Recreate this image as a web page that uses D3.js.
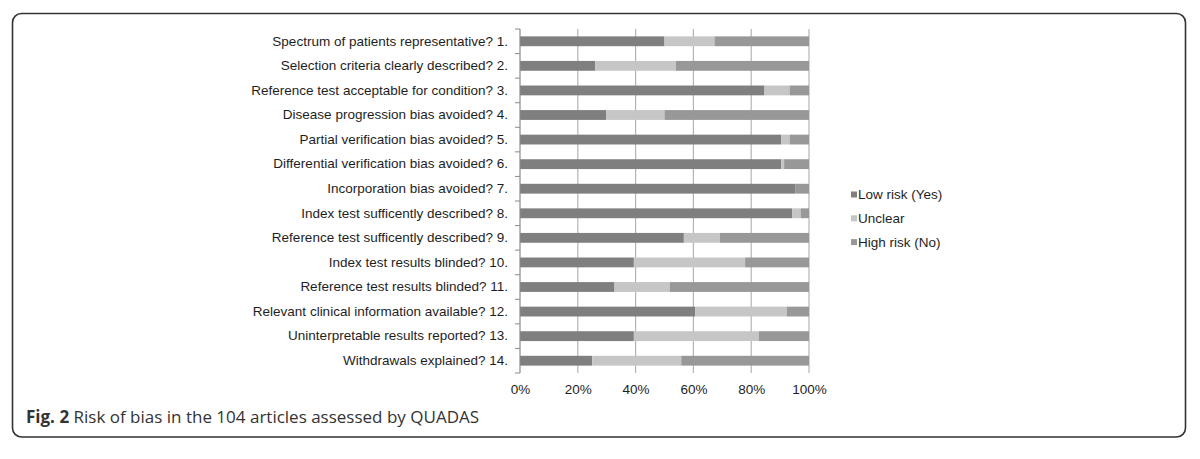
<!DOCTYPE html>
<html lang="en">
  <head>
    <meta charset="utf-8" />
    <title>Risk of bias - QUADAS</title>
    <script src="https://d3js.org/d3.v7.min.js"></script>
    <style>
      body { margin: 0; background: #fff; }
      svg { display: block; }
      text { font-family: "Liberation Sans", Arial, sans-serif; fill: #1e1e1e; }
      .caption { font-family: "Open Sans", sans-serif; fill: #333; }
    </style>
  </head>
  <body>
    <svg width="1200" height="459"></svg>
  </body>
  <script>
    // Questions (y categories)
    const questions = [
      'Spectrum of patients representative? 1.',
      'Selection criteria clearly described? 2.',
      'Reference test acceptable for condition? 3.',
      'Disease progression bias avoided? 4.',
      'Partial verification bias avoided? 5.',
      'Differential verification bias avoided? 6.',
      'Incorporation bias avoided? 7.',
      'Index test sufficently described? 8.',
      'Reference test sufficently described? 9.',
      'Index test results blinded? 10.',
      'Reference test results blinded? 11.',
      'Relevant clinical information available? 12.',
      'Uninterpretable results reported? 13.',
      'Withdrawals explained? 14.'
    ];

    // Percent of the 104 articles, per question
    const lowRisk  = [50.0, 26.0, 84.6, 29.8, 90.4, 90.4, 95.2, 94.2, 56.7, 39.4, 32.7, 60.6, 39.4, 25.0];
    const unclear  = [17.3, 27.9,  8.7, 20.2,  2.9,  1.0,  0.0,  2.9, 12.5, 38.5, 19.2, 31.7, 43.3, 30.8];
    const highRisk = [32.7, 46.1,  6.7, 50.0,  6.7,  8.6,  4.8,  2.9, 30.8, 22.1, 48.1,  7.7, 17.3, 44.2];

    const seriesNames = ['Low risk (Yes)', 'Unclear', 'High risk (No)'];
    const seriesColors = ['#7f7f7f', '#c6c6c6', '#989898'];
    const xTicks = [0, 20, 40, 60, 80, 100];

    const svg = d3.select('svg');

    // Frame around the figure
    svg.append('rect')
      .attr('x', 12.5).attr('y', 13.5)
      .attr('width', 1173).attr('height', 423.5)
      .attr('rx', 9).attr('ry', 9)
      .attr('fill', 'none')
      .attr('stroke', '#333')
      .attr('stroke-width', 1.6);

    // Plot area
    const marginLeft = 520, marginTop = 29;
    const width = 289, height = 344;
    const chart = svg.append('g').attr('transform', `translate(${marginLeft}, ${marginTop})`);

    const xScale = d3.scaleLinear().domain([0, 100]).range([0, width]);
    const yScale = d3.scaleBand().domain(questions).range([0, height]).paddingInner(0.6).paddingOuter(0.3);

    // Vertical grid lines
    chart.append('g')
      .selectAll('line')
      .data(xTicks.slice(1))
      .join('line')
      .attr('x1', d => xScale(d)).attr('x2', d => xScale(d))
      .attr('y1', 0).attr('y2', height)
      .attr('stroke', '#b4b4b4')
      .attr('stroke-width', 1.2);

    // Stacked rows
    const rows = questions.map((q, i) => ({ q, vals: [lowRisk[i], unclear[i], highRisk[i]] }));
    const stackData = rows.map(r => {
      let acc = 0;
      return r.vals.map((v, k) => { const s = { q: r.q, k, x0: acc, x1: acc + v }; acc += v; return s; });
    }).flat();

    chart.append('g')
      .selectAll('rect')
      .data(stackData)
      .join('rect')
      .attr('x', d => xScale(d.x0))
      .attr('width', d => Math.max(0, xScale(d.x1) - xScale(d.x0)))
      .attr('y', d => yScale(d.q))
      .attr('height', yScale.bandwidth())
      .attr('fill', d => seriesColors[d.k]);

    // Left axis: labels centred on rows, ticks on row boundaries
    const yAxis = chart.append('g')
      .call(d3.axisLeft(yScale).tickSize(0).tickPadding(12));
    yAxis.select('.domain').remove();
    yAxis.selectAll('text').style('font-size', '13.5px');

    const step = height / questions.length;
    chart.append('g')
      .selectAll('line')
      .data(d3.range(questions.length + 1))
      .join('line')
      .attr('x1', -5).attr('x2', 0)
      .attr('y1', i => i * step).attr('y2', i => i * step)
      .attr('stroke', '#8a8a8a');
    chart.append('line')
      .attr('x1', 0).attr('x2', 0)
      .attr('y1', 0).attr('y2', height)
      .attr('stroke', '#8a8a8a')
      .attr('stroke-width', 1.2);

    // Bottom axis labels (no axis line)
    const xAxis = chart.append('g')
      .attr('transform', `translate(0, ${height})`)
      .call(d3.axisBottom(xScale).tickValues(xTicks).tickSize(0).tickPadding(11).tickFormat(d => d + '%'));
    xAxis.select('.domain').remove();
    xAxis.selectAll('text').style('font-size', '13.5px');

    // Legend
    const legend = svg.append('g').attr('transform', 'translate(851, 194.5)');
    const items = legend.selectAll('g')
      .data(seriesNames)
      .join('g')
      .attr('transform', (d, i) => `translate(0, ${i * 23.8})`);
    items.append('rect')
      .attr('x', 0).attr('y', -3)
      .attr('width', 6).attr('height', 6)
      .attr('fill', (d, i) => seriesColors[i]);
    items.append('text')
      .attr('x', 7).attr('dy', '0.35em')
      .style('font-size', '13.5px')
      .text(d => d);

    // Caption
    const caption = svg.append('text')
      .attr('class', 'caption')
      .attr('x', 26).attr('y', 423)
      .style('font-size', '17px');
    caption.append('tspan').attr('font-weight', 'bold').text('Fig. 2');
    caption.append('tspan').text(' Risk of bias in the 104 articles assessed by QUADAS');
  </script>
</html>
